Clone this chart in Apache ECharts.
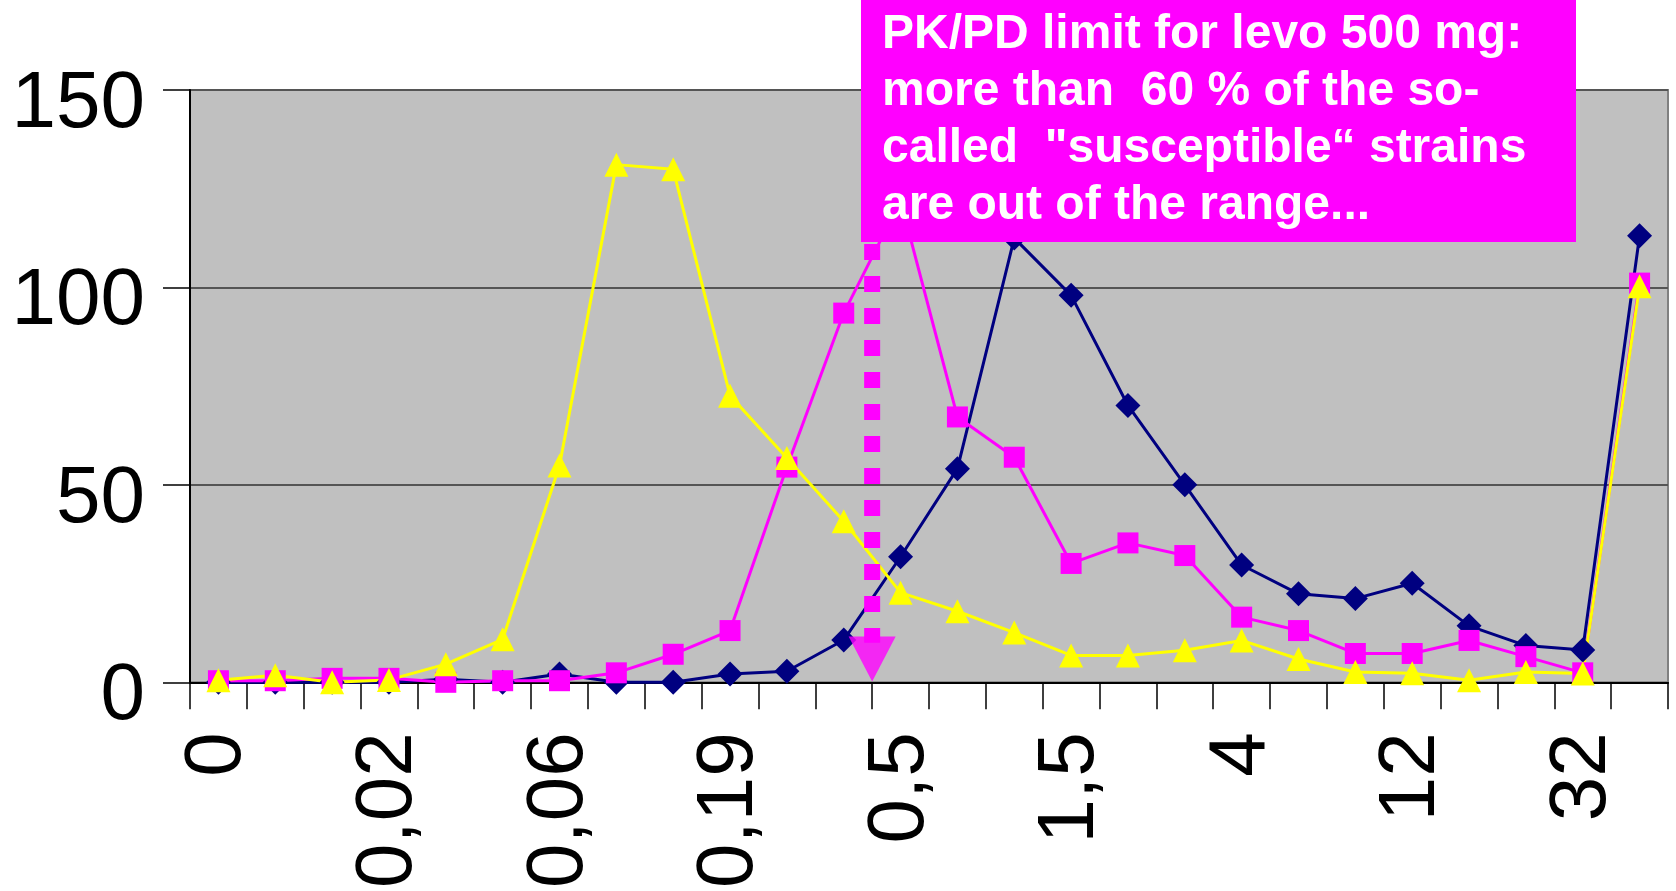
<!DOCTYPE html>
<html>
<head>
<meta charset="utf-8">
<title>Levofloxacin MIC distribution</title>
<script src="https://cdn.jsdelivr.net/npm/echarts@6/dist/echarts.min.js"></script>
<style>
  html, body { margin: 0; padding: 0; background: #ffffff; }
  #chart { width: 1676px; height: 891px; }
</style>
</head>
<body>
<div id="chart"></div>
<script>
// MIC dilution steps (mg/L); every third step is labelled on the axis
const micSteps = ["0", "0,012", "0,016", "0,02", "0,03", "0,047", "0,06", "0,094", "0,125",
  "0,19", "0,25", "0,38", "0,5", "0,75", "1", "1,5", "2", "3", "4", "6", "8", "12",
  "16", "24", "32", ">32"];

// Number of strains per MIC step
const seriesNavy = [0, 0, 0, 0, 0.8, 0, 2.1, 0, 0, 2.1, 2.8, 10.7, 31.8, 54.1, 112.5,
  98.0, 70.1, 50.0, 29.7, 22.4, 21.2, 25.1, 14.3, 9.3, 8.2, 113.1];
const seriesMagenta = [0.4, 0.4, 1.0, 1.0, 0, 0.4, 0.4, 2.4, 7.1, 13.1, 54.5, 93.5, 122,
  67.2, 57.0, 30.1, 35.3, 32.1, 16.5, 13.1, 7.3, 7.3, 10.6, 6.5, 2.4, 101.1];
const seriesYellow = [0.5, 1.8, 0, 0.6, 4.6, 10.9, 54.9, 131.1, 129.9, 72.6, 56.8, 40.8,
  22.7, 18.0, 12.6, 6.8, 6.8, 8.1, 10.6, 5.9, 2.6, 2.3, 0.5, 2.6, 2.2, 100.3];

// y-axis scale
const yMin = 0, yMax = 150, yStep = 50;

// PK/PD breakpoint pointer, placed between the 0,38 and 0,5 steps
const pkpdStep = 11.5;
const pointerTop = 111, pointerBottom = 10, arrowValue = 5.9;

const noteLines = [
  "PK/PD limit for levo 500 mg:",
  "more than  60 % of the so-",
  "called  \"susceptible\u201C strains",
  "are out of the range..."
];

const FONT = "'Liberation Sans', Arial, Helvetica, sans-serif";

const chart = echarts.init(document.getElementById('chart'), null, { renderer: 'canvas' });

function lineSeries(name, data, color, symbol, size) {
  return {
    name: name,
    type: 'line',
    data: data,
    symbol: symbol,
    symbolSize: size,
    showAllSymbol: true,
    clip: false,
    lineStyle: { color: color, width: 3 },
    itemStyle: { color: color },
    emphasis: { disabled: true },
    animation: false
  };
}

chart.setOption({
  backgroundColor: '#ffffff',
  animation: false,
  grid: {
    left: 190, right: 8, top: 90, bottom: 208,
    show: true,
    backgroundColor: '#c0c0c0',
    borderColor: '#808080',
    borderWidth: 2
  },
  xAxis: [
    {
      type: 'category',
      data: micSteps,
      boundaryGap: true,
      axisLine: { show: true, onZero: false, lineStyle: { color: '#000000', width: 2 } },
      axisTick: { show: true, interval: 0, length: 27, lineStyle: { color: '#000000', width: 1.5 } },
      axisLabel: {
        interval: 2,
        rotate: 90,
        margin: 50,
        fontFamily: FONT,
        fontSize: 80,
        color: '#000000'
      },
      splitLine: { show: false }
    },
    {
      // continuous twin of the category axis, used for the breakpoint pointer
      type: 'value',
      min: -0.5,
      max: micSteps.length - 0.5,
      show: false
    }
  ],
  yAxis: {
    type: 'value',
    min: yMin,
    max: yMax,
    interval: yStep,
    axisLine: { show: true, onZero: false, lineStyle: { color: '#000000', width: 2 } },
    axisTick: { show: true, length: 27, lineStyle: { color: '#000000', width: 1.5 } },
    axisLabel: {
      margin: 45,
      fontFamily: FONT,
      fontSize: 80,
      color: '#000000',
      verticalAlign: 'top',
      lineHeight: 30
    },
    splitLine: { show: true, lineStyle: { color: '#555555', width: 2 } }
  },
  series: [
    lineSeries('Navy', seriesNavy, '#000080', 'diamond', 25),
    lineSeries('Magenta', seriesMagenta, '#ff00ff', 'rect', 21),
    lineSeries('Yellow', seriesYellow, '#ffff00', 'triangle', 24),
    {
      name: 'PK/PD pointer',
      type: 'line',
      xAxisIndex: 1,
      data: [[pkpdStep, pointerTop], [pkpdStep, pointerBottom]],
      symbol: 'none',
      clip: false,
      lineStyle: { color: '#ff00ff', width: 16, type: [16, 16], cap: 'butt' },
      emphasis: { disabled: true },
      z: 5,
      animation: false
    },
    {
      name: 'PK/PD arrow',
      type: 'scatter',
      xAxisIndex: 1,
      data: [[pkpdStep, arrowValue]],
      symbol: 'triangle',
      symbolSize: [47, 45],
      symbolRotate: 180,
      clip: false,
      itemStyle: { color: '#ff00ff' },
      emphasis: { disabled: true },
      z: 5,
      animation: false
    }
  ],
  graphic: [
    {
      type: 'rect',
      z: 100,
      shape: { x: 861, y: 0, width: 715, height: 242 },
      style: { fill: '#ff00ff' }
    },
    {
      type: 'text',
      z: 101,
      x: 882,
      y: 6,
      style: {
        text: noteLines.join('\n'),
        font: "bold 48px " + FONT,
        lineHeight: 57,
        fill: '#ffffff',
        textAlign: 'left',
        textVerticalAlign: 'top'
      }
    }
  ]
});
</script>
</body>
</html>
